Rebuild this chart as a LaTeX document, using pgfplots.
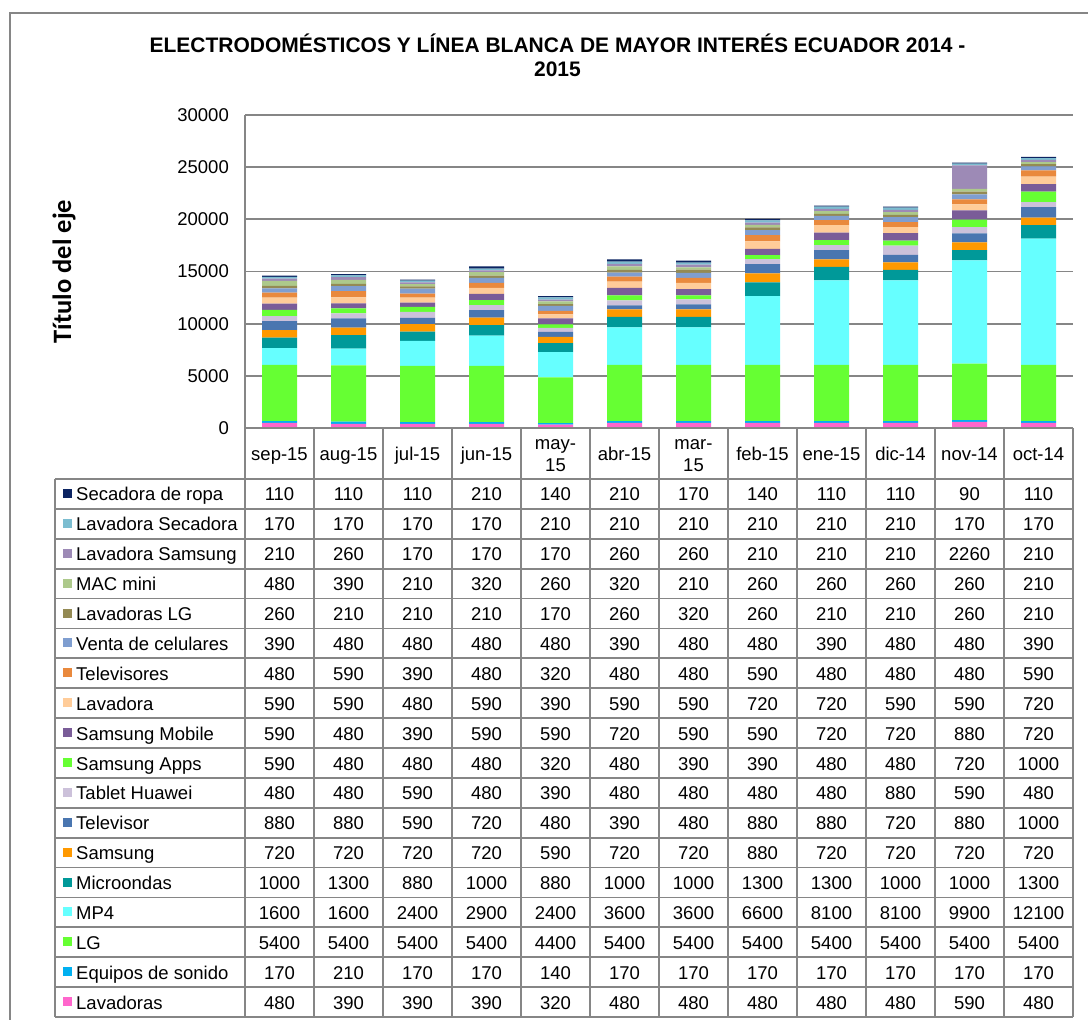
\documentclass[border=0pt]{standalone}
\usepackage{pgfplots}
\pgfplotsset{compat=1.18}
\usepackage{pgfplotstable}
\usepackage{fontspec}
\setmainfont{Liberation Sans}
\newfontfamily\calibri{Carlito}

\definecolor{clav}{HTML}{FF66CC}
\definecolor{cequ}{HTML}{00B0F0}
\definecolor{clg}{HTML}{66FF33}
\definecolor{cmp}{HTML}{66FFFF}
\definecolor{cmic}{HTML}{009999}
\definecolor{csam}{HTML}{FF9900}
\definecolor{ctv}{HTML}{4A76B0}
\definecolor{ctab}{HTML}{CCC1DA}
\definecolor{csapps}{HTML}{66FF33}
\definecolor{csmob}{HTML}{7A5C98}
\definecolor{clavd}{HTML}{FFCC99}
\definecolor{ctvs}{HTML}{E9893D}
\definecolor{ccel}{HTML}{7F9ED0}
\definecolor{clavlg}{HTML}{948A54}
\definecolor{cmac}{HTML}{ADC98B}
\definecolor{clavsam}{HTML}{9D8AB6}
\definecolor{clavsec}{HTML}{7CBDD0}
\definecolor{csec}{HTML}{0C2462}
\definecolor{gridgray}{HTML}{868686}
\definecolor{tablegray}{HTML}{868686}

\pgfplotstableread{
idx lav equ lg mp mic sam tv tab sapps smob lavd tvs cel lavlg mac lavsam lavsec sec
0 480 170 5400 1600 1000 720 880 480 590 590 590 480 390 260 480 210 170 110
1 390 210 5400 1600 1300 720 880 480 480 480 590 590 480 210 390 260 170 110
2 390 170 5400 2400 880 720 590 590 480 390 480 390 480 210 210 170 170 110
3 390 170 5400 2900 1000 720 720 480 480 590 590 480 480 210 320 170 170 210
4 320 140 4400 2400 880 590 480 390 320 590 390 320 480 170 260 170 210 140
5 480 170 5400 3600 1000 720 390 480 480 720 590 480 390 260 320 260 210 210
6 480 170 5400 3600 1000 720 480 480 390 590 590 480 480 320 210 260 210 170
7 480 170 5400 6600 1300 880 880 480 390 590 720 590 480 260 260 210 210 140
8 480 170 5400 8100 1300 720 880 480 480 720 720 480 390 210 260 210 210 110
9 480 170 5400 8100 1000 720 720 880 480 720 590 480 480 210 260 210 210 110
10 590 170 5400 9900 1000 720 880 590 720 880 590 480 480 260 260 2260 170 90
11 480 170 5400 12100 1300 720 1000 480 1000 720 720 590 390 210 210 210 170 110
}\data

\newcommand{\tabfont}{\fontsize{18.5}{22}\selectfont}

\begin{document}
\begin{tikzpicture}
\path[use as bounding box, clip] (0pt,0pt) rectangle (1088pt,1020pt);
\fill[white] (0pt,0pt) rectangle (1088pt,1020pt);
\begin{axis}[
  at={(245pt,592pt)}, anchor=south west,
  scale only axis, width=828pt, height=313pt,
  ybar stacked, bar width=35pt,
  xmin=-0.5, xmax=11.5, ymin=0, ymax=30000,
  xtick=\empty,
  ytick={0,5000,...,30000},
  axis x line=none,
  axis y line*=left,
  ymajorgrids,
  grid style={draw=gridgray, line width=1.7pt},
  axis line style={draw=gridgray, line width=1.7pt},
  major tick length=0pt,
  scaled y ticks=false,
  /pgf/number format/1000 sep={},
  /pgf/number format/assume math mode=true,
  yticklabel style={font=\tabfont, anchor=east, inner sep=0pt, xshift=-16pt},
]
\addplot[fill=clav, draw=none] table[x=idx, y=lav] {\data};
\addplot[fill=cequ, draw=none] table[x=idx, y=equ] {\data};
\addplot[fill=clg, draw=none] table[x=idx, y=lg] {\data};
\addplot[fill=cmp, draw=none] table[x=idx, y=mp] {\data};
\addplot[fill=cmic, draw=none] table[x=idx, y=mic] {\data};
\addplot[fill=csam, draw=none] table[x=idx, y=sam] {\data};
\addplot[fill=ctv, draw=none] table[x=idx, y=tv] {\data};
\addplot[fill=ctab, draw=none] table[x=idx, y=tab] {\data};
\addplot[fill=csapps, draw=none] table[x=idx, y=sapps] {\data};
\addplot[fill=csmob, draw=none] table[x=idx, y=smob] {\data};
\addplot[fill=clavd, draw=none] table[x=idx, y=lavd] {\data};
\addplot[fill=ctvs, draw=none] table[x=idx, y=tvs] {\data};
\addplot[fill=ccel, draw=none] table[x=idx, y=cel] {\data};
\addplot[fill=clavlg, draw=none] table[x=idx, y=lavlg] {\data};
\addplot[fill=cmac, draw=none] table[x=idx, y=mac] {\data};
\addplot[fill=clavsam, draw=none] table[x=idx, y=lavsam] {\data};
\addplot[fill=clavsec, draw=none] table[x=idx, y=lavsec] {\data};
\addplot[fill=csec, draw=none] table[x=idx, y=sec] {\data};
\end{axis}

\begin{scope}[x=1pt,y=-1pt,yshift=1020pt]
  % outer border
  \draw[gridgray, line width=2pt] (1100,13) -- (10,13) -- (10,1040);
  % title
  \node[anchor=base, inner sep=0, font=\fontsize{21}{24}\selectfont\bfseries] at (557.5,53)
    {ELECTRODOMÉSTICOS Y LÍNEA BLANCA DE MAYOR INTERÉS ECUADOR 2014 -};
  \node[anchor=base, inner sep=0, font=\fontsize{21}{24}\selectfont\bfseries] at (557.5,77) {2015};
  % y label
  \node[rotate=90, inner sep=0, font=\calibri\bfseries\fontsize{26.5}{30}\selectfont] at (64,271.5) {Título del eje};
  % table grid
  \draw[tablegray, line width=1.7pt] (245,428) -- (1073,428);
  \foreach \j in {0,...,18} {
    \draw[tablegray, line width=1.7pt] (55,{479+29.89*\j}) -- (1073,{479+29.89*\j});
  }
  \draw[tablegray, line width=1.7pt] (55,479) -- (55,1017);
  \foreach \k in {0,...,12} {
    \draw[tablegray, line width=1.7pt] ({245+69*\k},428) -- ({245+69*\k},1017);
  }
  % header
  \foreach \k/\a in {0/sep-15,1/aug-15,2/jul-15,3/jun-15,5/abr-15,7/feb-15,8/ene-15,9/dic-14,10/nov-14,11/oct-14} {
    \node[anchor=base, inner sep=0, font=\tabfont] at ({279.5+69*\k},461) {\a};
  }
  \foreach \k/\a in {4/may-,6/mar-} {
    \node[anchor=base, inner sep=0, font=\tabfont] at ({279.5+69*\k},450) {\a};
    \node[anchor=base, inner sep=0, font=\tabfont] at ({279.5+69*\k},472) {15};
  }
  % rows
  \foreach \j/\c/\n in {0/sec/Secadora de ropa, 1/lavsec/Lavadora Secadora, 2/lavsam/Lavadora Samsung, 3/mac/MAC mini, 4/lavlg/Lavadoras LG, 5/cel/Venta de celulares, 6/tvs/Televisores, 7/lavd/Lavadora, 8/smob/Samsung Mobile, 9/sapps/Samsung Apps, 10/tab/Tablet Huawei, 11/tv/Televisor, 12/sam/Samsung, 13/mic/Microondas, 14/mp/MP4, 15/lg/LG, 16/equ/Equipos de sonido, 17/lav/Lavadoras} {
    \pgfmathsetmacro\yb{479+29.89*\j+22}
    \fill[c\c] (63,{\yb-12}) rectangle (72,{\yb-3});
    \node[anchor=base west, inner sep=0, font=\tabfont] at (76,\yb) {\n};
    \foreach \k in {0,...,11} {
      \edef\tmp{\noexpand\pgfplotstablegetelem{\k}{\c}}\tmp\of\data
      \node[anchor=base, inner sep=0, font=\tabfont] at ({279.5+69*\k},\yb) {\pgfplotsretval};
    }
  }
\end{scope}
\end{tikzpicture}
\end{document}
